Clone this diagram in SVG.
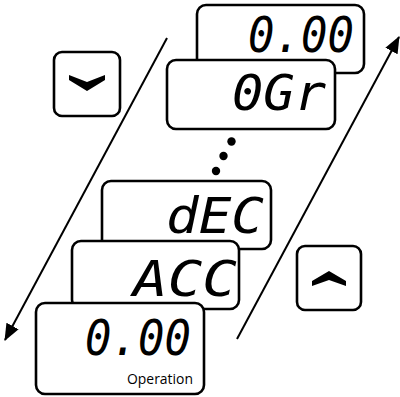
<svg xmlns="http://www.w3.org/2000/svg" width="400" height="397" viewBox="0 0 400 397">
<defs>
<style>
.box{fill:#fff;stroke:#000;stroke-width:2.6}
.seg{font-family:"DejaVu Sans Mono","Liberation Mono",monospace;font-style:italic;font-size:50px;fill:#000;text-anchor:end}
.lbl{font-family:"Open Sans","Liberation Sans",sans-serif;font-size:14px;fill:#000}
.line{stroke:#000;stroke-width:2;fill:none}
</style>
<marker id="ah2" viewBox="0 0 16 14" refX="15" refY="7" markerWidth="17" markerHeight="15" orient="auto" markerUnits="userSpaceOnUse">
<path d="M0,0.5 L16,7 L0,13.5 z" fill="#000"/>
</marker>
</defs>
<g id="connectors">
<line class="line" x1="167" y1="38" x2="5" y2="340" marker-end="url(#ah2)"/>
<line class="line" x1="237" y1="339" x2="399" y2="37" marker-end="url(#ah2)"/>
</g>
<g id="disp-top">
<rect class="box" x="197" y="5" width="167" height="68" rx="9"/>
<text class="seg" x="354" y="52" textLength="106" lengthAdjust="spacingAndGlyphs">0.00</text>
</g>
<g id="disp-0Gr">
<rect class="box" x="167" y="60" width="168" height="69" rx="9"/>
<text class="seg" x="326" y="110" textLength="94" lengthAdjust="spacingAndGlyphs">0Gr</text>
</g>
<g id="dots">
<circle cx="231.5" cy="141.5" r="4.2"/>
<circle cx="223.5" cy="156" r="4.2"/>
<circle cx="216" cy="171" r="4.2"/>
</g>
<g id="disp-dEC">
<rect class="box" x="102" y="181" width="169" height="68" rx="9"/>
<text class="seg" x="264" y="233" textLength="98" lengthAdjust="spacingAndGlyphs">dEC</text>
</g>
<g id="disp-ACC">
<rect class="box" x="72" y="241" width="167" height="68" rx="9"/>
<text class="seg" x="237" y="296" textLength="104" lengthAdjust="spacingAndGlyphs">ACC</text>
</g>
<g id="disp-op">
<rect class="box" x="36" y="303" width="168" height="91" rx="9"/>
<text class="seg" x="191" y="355" textLength="106" lengthAdjust="spacingAndGlyphs">0.00</text>
<text class="lbl" x="127" y="384" textLength="66" lengthAdjust="spacingAndGlyphs">Operation</text>
</g>
<g id="btn-down">
<rect class="box" x="54" y="52" width="66" height="64" rx="8"/>
<polygon points="69,75 87,82 105,75 105,80 87,91 69,80"/>
</g>
<g id="btn-up">
<rect class="box" x="297" y="246" width="64" height="64" rx="8"/>
<polygon points="312,281 329,271 346,281 346,286 329,280 312,286"/>
</g>
</svg>
